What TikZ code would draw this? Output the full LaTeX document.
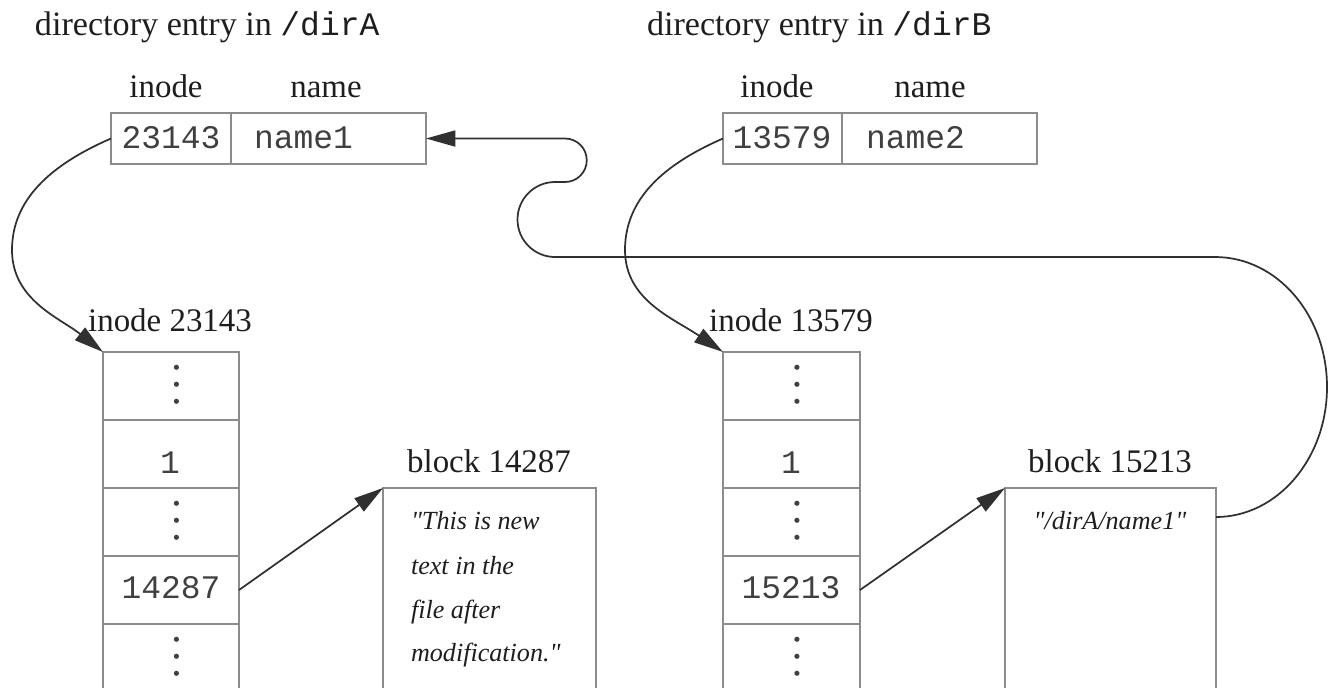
\documentclass[tikz,border=0pt]{standalone}
\usepackage{fontspec}
\setmainfont{Liberation Serif}[Ligatures=TeXOff]
\setmonofont{Liberation Mono}
\newfontfamily\dvs{DejaVu Sans}
\usetikzlibrary{arrows.meta}
\newdimen\upx \upx=0.75pt
\newcommand\mainfs{\fontsize{24.7pt}{29pt}\selectfont}
\newcommand\titlefs{\fontsize{25.6pt}{30pt}\selectfont}
\newcommand\itfs{\fontsize{19.6pt}{24pt}\selectfont\itshape}
\newcommand\dotfs{\dvs\fontsize{5pt}{6pt}\selectfont}
\definecolor{boxgray}{HTML}{8C8C8C}
\definecolor{linegray}{HTML}{303030}
\definecolor{txtc}{HTML}{1E1E1E}
\begin{document}
\begin{tikzpicture}[x=0.75pt,y=-0.75pt,
  txt/.style={inner sep=0pt, outer sep=0pt, text=txtc, font=\mainfs},
  mono/.style={txt, font=\mainfs\ttfamily, text=txtc!85!white},
  itl/.style={inner sep=0pt, outer sep=0pt, text=txtc, font=\itfs},
  cell/.style={draw=boxgray, line width=1.2pt, inner sep=0pt, outer sep=0pt, anchor=north west},
  dotn/.style={inner sep=0pt, outer sep=0pt, text=txtc!85!white, font=\dotfs, anchor=center},
  conn/.style={draw=linegray, line width=1.3pt, -{Triangle[length=22pt,width=12pt]}},
  plain/.style={draw=linegray, line width=1.3pt}]
\useasboundingbox (0,0) rectangle (1336,687);
\clip (0,0) rectangle (1336,687);

% titles
\node[txt, anchor=base west] (titleA) at (35,35) {\titlefs directory entry in \mainfs\texttt{/dirA}};
\node[txt, anchor=base west] (titleB) at (647,35) {\titlefs directory entry in \mainfs\texttt{/dirB}};
\node[txt, anchor=base] (hinA) at (166,97) {inode};
\node[txt, anchor=base] (hnaA) at (326,97) {name};
\node[txt, anchor=base] (hinB) at (777,97) {inode};
\node[txt, anchor=base] (hnaB) at (930,97) {name};

% directory entries
\node[cell, minimum width=120\upx, minimum height=51\upx] (eA1) at (111,113) {};
\node[cell, minimum width=195\upx, minimum height=51\upx] (eA2) at (231,113) {};
\node[mono, anchor=base] (tA1) at (171,148) {23143};
\node[mono, anchor=base west] (tA2) at (254,148) {name1};
\node[cell, minimum width=119\upx, minimum height=51\upx] (eB1) at (723,113) {};
\node[cell, minimum width=195\upx, minimum height=51\upx] (eB2) at (842,113) {};
\node[mono, anchor=base] (tB1) at (782,148) {13579};
\node[mono, anchor=base west] (tB2) at (866,148) {name2};

% inode labels
\node[txt, anchor=base] (lA) at (170,331) {inode 23143};
\node[txt, anchor=base] (lB) at (791,331) {inode 13579};

% inode columns
\node[cell, minimum width=136\upx, minimum height=68\upx] (cA1) at (103,352) {};
\node[cell, minimum width=136\upx, minimum height=68\upx] (cA2) at (103,420) {};
\node[cell, minimum width=136\upx, minimum height=68\upx] (cA3) at (103,488) {};
\node[cell, minimum width=136\upx, minimum height=68\upx] (cA4) at (103,556) {};
\node[cell, minimum width=136\upx, minimum height=90\upx] (cA5) at (103,624) {};
\node[cell, minimum width=137\upx, minimum height=68\upx] (cB1) at (723,352) {};
\node[cell, minimum width=137\upx, minimum height=68\upx] (cB2) at (723,420) {};
\node[cell, minimum width=137\upx, minimum height=68\upx] (cB3) at (723,488) {};
\node[cell, minimum width=137\upx, minimum height=68\upx] (cB4) at (723,556) {};
\node[cell, minimum width=137\upx, minimum height=90\upx] (cB5) at (723,624) {};

% vertical ellipses
\foreach \cx/\col in {176.5/A,797/B} {
  \foreach \cy/\row in {368/1,504/3,640/5} {
    \node[dotn] (d\col\row a) at (\cx,\cy) {●};
    \node[dotn] (d\col\row b) at (\cx,\cy+17) {●};
    \node[dotn] (d\col\row c) at (\cx,\cy+34) {●};
  }
}

\node[mono, anchor=base] (vA2) at (170,473) {1};
\node[mono, anchor=base] (vA4) at (171,598) {14287};
\node[mono, anchor=base] (vB2) at (791,473) {1};
\node[mono, anchor=base] (vB4) at (791,598) {15213};

% blocks
\node[txt, anchor=base] (bA) at (489,472) {block 14287};
\node[txt, anchor=base] (bB) at (1110,472) {block 15213};
\node[cell, minimum width=213\upx, minimum height=240\upx] (blkA) at (383,488) {};
\node[cell, minimum width=211\upx, minimum height=240\upx] (blkB) at (1005,488) {};
\node[itl, anchor=base west] (pA1) at (411,529) {"This is new};
\node[itl, anchor=base west] (pA2) at (411,574) {text in the};
\node[itl, anchor=base west] (pA3) at (411,618) {file after};
\node[itl, anchor=base west] (pA4) at (411,661) {modification."};
\node[itl, anchor=base] (pB1) at (1110,529) {"/dirA/name1"};

% connectors
\draw[conn] (eA1.west) .. controls (50,165) and (12,200) .. (12,250)
   .. controls (12,300) and (60,318) .. (cA1.north west);
\draw[conn] (eB1.west) .. controls (662,165) and (625,200) .. (625,250)
   .. controls (625,300) and (673,318) .. (cB1.north west);
\draw[conn] (cA4.east) -- (blkA.north west);
\draw[conn] (cB4.east) -- (blkB.north west);
\draw[conn] (blkB.north east) ++(0,29)
   .. controls (1277,517) and (1327,459) .. (1327,387)
   .. controls (1327,315) and (1277,257) .. (1215,257)
   -- (555,257)
   .. controls (534.3,257) and (517.5,240.2) .. (517.5,219.5)
   .. controls (517.5,198.8) and (534.3,182) .. (555,182)
   -- (565,182)
   .. controls (577,182) and (586.75,172.3) .. (586.75,160.25)
   .. controls (586.75,148.2) and (577,138.5) .. (565,138.5)
   -- (eA2.east);
\end{tikzpicture}
\end{document}
